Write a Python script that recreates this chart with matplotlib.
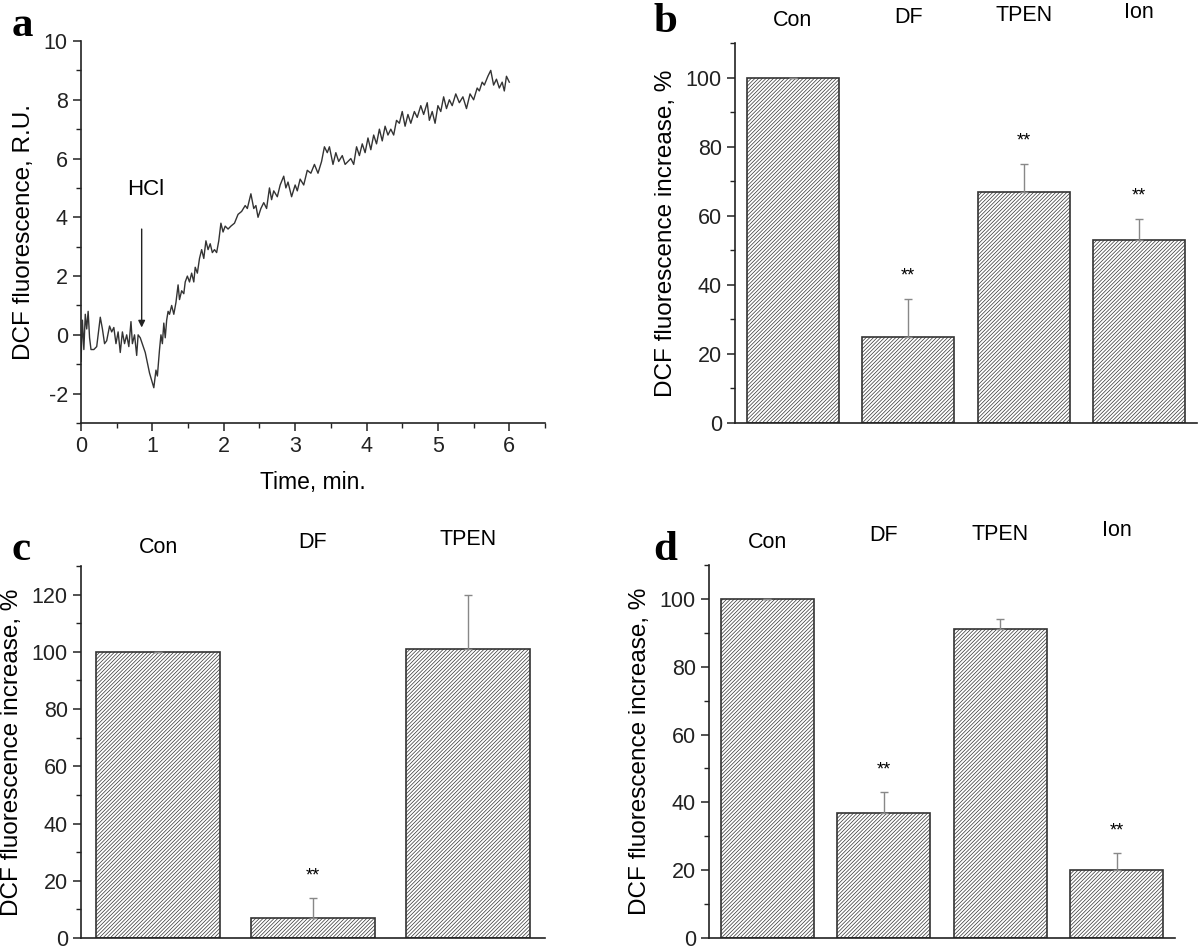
import matplotlib
matplotlib.use("Agg")
import matplotlib.pyplot as plt
from matplotlib.ticker import MultipleLocator
from matplotlib.transforms import blended_transform_factory

plt.rcParams['font.family'] = ['Liberation Sans', 'DejaVu Sans']
plt.rcParams['axes.unicode_minus'] = False
plt.rcParams['hatch.linewidth'] = 0.5
plt.rcParams['hatch.color'] = '#8a8a8a'

# panel a: DCF trace
time_min = [0.00, 0.02, 0.04, 0.06, 0.08, 0.10, 0.12, 0.14, 0.18, 0.22,
            0.27, 0.30, 0.33, 0.36, 0.40, 0.43, 0.46, 0.49, 0.52, 0.55,
            0.58, 0.61, 0.64, 0.67, 0.70, 0.72, 0.75, 0.78, 0.80, 0.83,
            0.90, 0.96, 1.02, 1.05, 1.07, 1.10, 1.12, 1.14, 1.16, 1.18,
            1.20, 1.22, 1.24, 1.27, 1.30, 1.33, 1.36, 1.38, 1.41, 1.44,
            1.46, 1.49, 1.52, 1.55, 1.58, 1.60, 1.63, 1.66, 1.69, 1.72,
            1.75, 1.78, 1.81, 1.84, 1.87, 1.90, 1.93, 1.96, 1.99, 2.02,
            2.06, 2.10, 2.15, 2.20, 2.25, 2.30, 2.33, 2.38, 2.42, 2.45,
            2.48, 2.52, 2.56, 2.60, 2.64, 2.67, 2.70, 2.75, 2.79, 2.84,
            2.87, 2.90, 2.95, 3.00, 3.03, 3.07, 3.12, 3.17, 3.22, 3.27,
            3.32, 3.37, 3.41, 3.45, 3.48, 3.53, 3.57, 3.61, 3.66, 3.70,
            3.74, 3.78, 3.82, 3.86, 3.90, 3.94, 3.98, 4.02, 4.06, 4.10,
            4.14, 4.18, 4.22, 4.26, 4.30, 4.34, 4.38, 4.42, 4.46, 4.50,
            4.54, 4.58, 4.62, 4.67, 4.71, 4.76, 4.80, 4.85, 4.88, 4.92,
            4.96, 5.00, 5.04, 5.08, 5.12, 5.16, 5.20, 5.25, 5.30, 5.35,
            5.40, 5.45, 5.50, 5.55, 5.58, 5.62, 5.65, 5.70, 5.74, 5.78,
            5.82, 5.86, 5.90, 5.93, 5.96, 6.00]
dcf = [-0.9, 0.5, -0.5, 0.7, 0.2, 0.8, -0.1, -0.5, -0.5, -0.4,
       0.6, 0.2, -0.3, -0.2, 0.3, 0.1, 0.25, -0.3, 0.1, -0.6,
       0.1, -0.3, 0.0, -0.4, 0.45, -0.3, 0.0, -0.7, 0.0, -0.1,
       -0.6, -1.3, -1.8, -1.2, -1.4, -0.5, 0.0, -0.3, 0.4, -0.1,
       0.5, 0.8, 0.7, 1.0, 0.7, 1.1, 1.7, 1.2, 1.5, 1.4,
       1.8, 2.0, 1.8, 2.1, 1.8, 2.3, 2.1, 2.6, 2.9, 2.6,
       3.2, 2.9, 3.1, 2.8, 2.9, 2.8, 3.2, 3.8, 3.5, 3.7,
       3.6, 3.7, 3.8, 4.1, 4.2, 4.4, 4.3, 4.8, 4.3, 4.4,
       4.0, 4.3, 4.5, 4.3, 5.0, 4.6, 4.9, 4.7, 5.1, 5.4,
       5.0, 5.2, 4.7, 5.1, 4.9, 5.3, 5.1, 5.6, 5.5, 5.8,
       5.5, 5.9, 6.4, 6.2, 6.4, 5.8, 6.2, 5.9, 6.1, 5.8,
       5.9, 6.0, 5.8, 6.4, 6.1, 6.5, 6.2, 6.7, 6.3, 6.8,
       6.5, 7.0, 6.6, 7.1, 6.8, 7.0, 6.8, 7.3, 7.2, 7.6,
       7.1, 7.5, 7.2, 7.6, 7.4, 7.8, 7.5, 7.9, 7.3, 7.6,
       7.2, 7.8, 7.6, 8.1, 7.7, 8.0, 7.8, 8.2, 7.9, 8.1,
       7.7, 8.2, 8.0, 8.4, 8.3, 8.6, 8.5, 8.8, 9.0, 8.5,
       8.7, 8.4, 8.6, 8.3, 8.8, 8.6]

# panels b, c, d
cats_b = ['Con', 'DF', 'TPEN', 'Ion']
vals_b = [100, 25, 67, 53]
err_b = [0, 11, 8, 6]
stars_b = ['', '**', '**', '**']

cats_c = ['Con', 'DF', 'TPEN']
vals_c = [100, 7, 101]
err_c = [0, 7, 19]
stars_c = ['', '**', '']

cats_d = ['Con', 'DF', 'TPEN', 'Ion']
vals_d = [100, 37, 91, 20]
err_d = [0, 6, 3, 5]
stars_d = ['', '**', '', '**']

W, H = 1200, 951
fig = plt.figure(figsize=(W / 100, H / 100), dpi=100)


def px_axes(left, top, right, bottom):
    return fig.add_axes([left / W, 1 - bottom / H, (right - left) / W, (bottom - top) / H])


def style(ax):
    for s in ['top', 'right']:
        ax.spines[s].set_visible(False)
    for s in ['left', 'bottom']:
        ax.spines[s].set_linewidth(1.2)
        ax.spines[s].set_color('#222222')
    ax.tick_params(which='major', direction='out', length=6, width=1.1, labelsize=15.5, colors='#222222')
    ax.tick_params(which='minor', direction='out', length=3.5, width=1.0, colors='#222222')


# ---- a ----
ax_a = px_axes(81, 41, 545, 423)
ax_a.plot(time_min, dcf, color='#333333', lw=1.0)
ax_a.set_xlim(0, 6.5)
ax_a.set_ylim(-3, 10)
ax_a.xaxis.set_major_locator(MultipleLocator(1))
ax_a.xaxis.set_minor_locator(MultipleLocator(0.5))
ax_a.yaxis.set_major_locator(MultipleLocator(2))
ax_a.yaxis.set_minor_locator(MultipleLocator(1))
style(ax_a)
ax_a.set_xticks([0, 1, 2, 3, 4, 5, 6])
ax_a.set_xlabel('Time, min.', fontsize=16.5, labelpad=10)
ax_a.set_ylabel('DCF fluorescence, R.U.', fontsize=17.5, labelpad=6)
ax_a.text(0.9, 4.95, 'HCl', fontsize=16, ha='center', va='center')
ax_a.annotate('', xy=(0.85, 0.25), xytext=(0.85, 3.6),
              arrowprops=dict(arrowstyle='-|>', color='#222222', lw=1.0,
                              mutation_scale=10, shrinkA=0, shrinkB=0))


def bars(ax, cats, vals, errs, stars, ymax, major, minor, lab_dy):
    x = list(range(len(cats)))
    ax.bar(x, vals, width=0.8, color='white', edgecolor='#333333',
           linewidth=1.2, hatch='/////////')
    low = [0] * len(errs)
    ax.errorbar(x, vals, yerr=[low, errs], fmt='none', ecolor='#888888',
                elinewidth=1.0, capsize=3, capthick=1.0)
    for xi, v, e, s in zip(x, vals, errs, stars):
        if s:
            ax.text(xi, v + e + ymax * 0.06, s, ha='center', va='center', fontsize=13)
    ax.set_xlim(-0.5, len(cats) - 0.5)
    ax.set_ylim(0, ymax)
    ax.set_xticks([])
    ax.yaxis.set_major_locator(MultipleLocator(major))
    ax.yaxis.set_minor_locator(MultipleLocator(minor))
    style(ax)
    tr = blended_transform_factory(ax.transData, ax.transAxes)
    for xi, c, dy in zip(x, cats, lab_dy):
        ax.text(xi, 1.0 + dy, c, transform=tr, ha='center', va='center', fontsize=15.5)
    ax.set_ylabel('DCF fluorescence increase, %', fontsize=17.5, labelpad=6)


ax_b = px_axes(735, 43, 1197, 423)
bars(ax_b, cats_b, vals_b, err_b, stars_b, 110, 20, 10, [0.060, 0.068, 0.073, 0.080])

ax_c = px_axes(81, 566, 545, 938)
bars(ax_c, cats_c, vals_c, err_c, stars_c, 130, 20, 10, [0.050, 0.063, 0.070])

ax_d = px_axes(709, 565, 1175, 938)
bars(ax_d, cats_d, vals_d, err_d, stars_d, 110, 20, 10, [0.060, 0.078, 0.083, 0.093])

for lab, x, y in [('a', 22, 26), ('b', 665, 22), ('c', 21, 550), ('d', 665, 550)]:
    fig.text(x / W, 1 - y / H, lab, fontsize=31, fontweight='bold',
             family='Liberation Serif', ha='center', va='center')

fig.savefig('out.png', dpi=100)
